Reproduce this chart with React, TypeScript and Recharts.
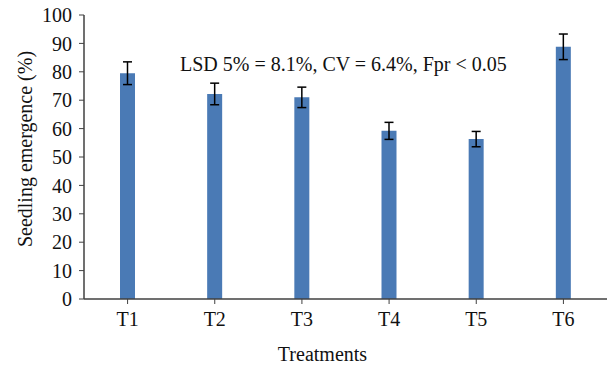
import { BarChart, Bar, XAxis, YAxis, ErrorBar, Label } from 'recharts'

const treatments = ['T1', 'T2', 'T3', 'T4', 'T5', 'T6']
const emergence = [79.5, 72.2, 71.0, 59.2, 56.3, 88.8]
const errors = [4.0, 3.8, 3.6, 3.0, 2.7, 4.5]
const yTicks = [0, 10, 20, 30, 40, 50, 60, 70, 80, 90, 100]

const data = treatments.map((t, i) => ({ name: t, value: emergence[i], err: errors[i] }))

const FONT = '"Liberation Serif", "DejaVu Serif", serif'
const AXIS = '#404040'
const TXT = { fill: '#111', fontSize: 20, fontFamily: FONT }

// rotated y title, sits a little above the plot centre like the original
function YTitle() {
  return (
    <text x={25} y={149} transform="rotate(-90 25 149)" textAnchor="middle" dominantBaseline="central" {...TXT}>
      Seedling emergence (%)
    </text>
  )
}

export default function App() {
  return (
    <div style={{ position: 'absolute', left: 0, top: 0, width: 609, height: 368, background: '#fff', fontFamily: FONT }}>
      <BarChart width={609} height={368} data={data} margin={{ top: 15, right: 2, bottom: 29, left: 0 }}>
        <XAxis
          dataKey="name"
          height={40}
          tick={TXT}
          tickLine={{ stroke: AXIS }}
          axisLine={{ stroke: AXIS, strokeWidth: 1.5 }}
          tickSize={5}
          tickMargin={8}
        >
          <Label value="Treatments" position="bottom" offset={8} dx={-23} style={TXT} />
        </XAxis>
        <YAxis
          width={84}
          domain={[0, 100]}
          ticks={yTicks}
          interval={0}
          tick={TXT}
          tickLine={{ stroke: AXIS }}
          axisLine={{ stroke: AXIS, strokeWidth: 1.5 }}
          tickSize={5}
          tickMargin={7}
        >
          <Label content={<YTitle />} />
        </YAxis>
        <Bar dataKey="value" fill="#4a7ab5" barSize={15} isAnimationActive={false}>
          <ErrorBar dataKey="err" width={4.5} stroke="#000" strokeWidth={1.5} isAnimationActive={false} />
        </Bar>
      </BarChart>
      <div style={{ position: 'absolute', left: 180, top: 51, fontSize: 20, color: '#111', whiteSpace: 'nowrap', lineHeight: '26px' }}>
        LSD 5% = 8.1%, CV = 6.4%, Fpr &lt; 0.05
      </div>
    </div>
  )
}
